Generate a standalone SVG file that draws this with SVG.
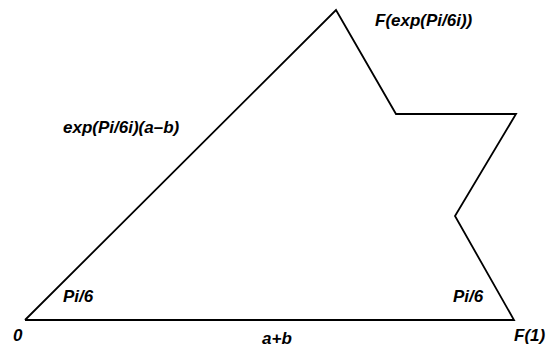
<svg xmlns="http://www.w3.org/2000/svg" width="547" height="347" viewBox="0 0 547 347">
<style>
.lbl{font-family:"Liberation Sans",Arial,sans-serif;font-weight:bold;font-style:italic;font-size:17px;fill:#000}
.edge{fill:none;stroke:#000;stroke-width:1.8;stroke-linejoin:miter}
</style>
<rect width="547" height="347" fill="#fff"/>
<g id="connectors">
<polyline class="edge" points="25,320 336,10 396,114 516,114 455,216 514,320 25,320"/>
</g>
<g id="labels">
<text class="lbl" x="375" y="26">F(exp(Pi/6i))</text>
<text class="lbl" x="63" y="133">exp(Pi/6i)(a–b)</text>
<text class="lbl" x="63" y="302">Pi/6</text>
<text class="lbl" x="453" y="302">Pi/6</text>
<text class="lbl" x="13" y="341">0</text>
<text class="lbl" x="262" y="344">a+b</text>
<text class="lbl" x="514" y="341">F(1)</text>
</g>
</svg>
